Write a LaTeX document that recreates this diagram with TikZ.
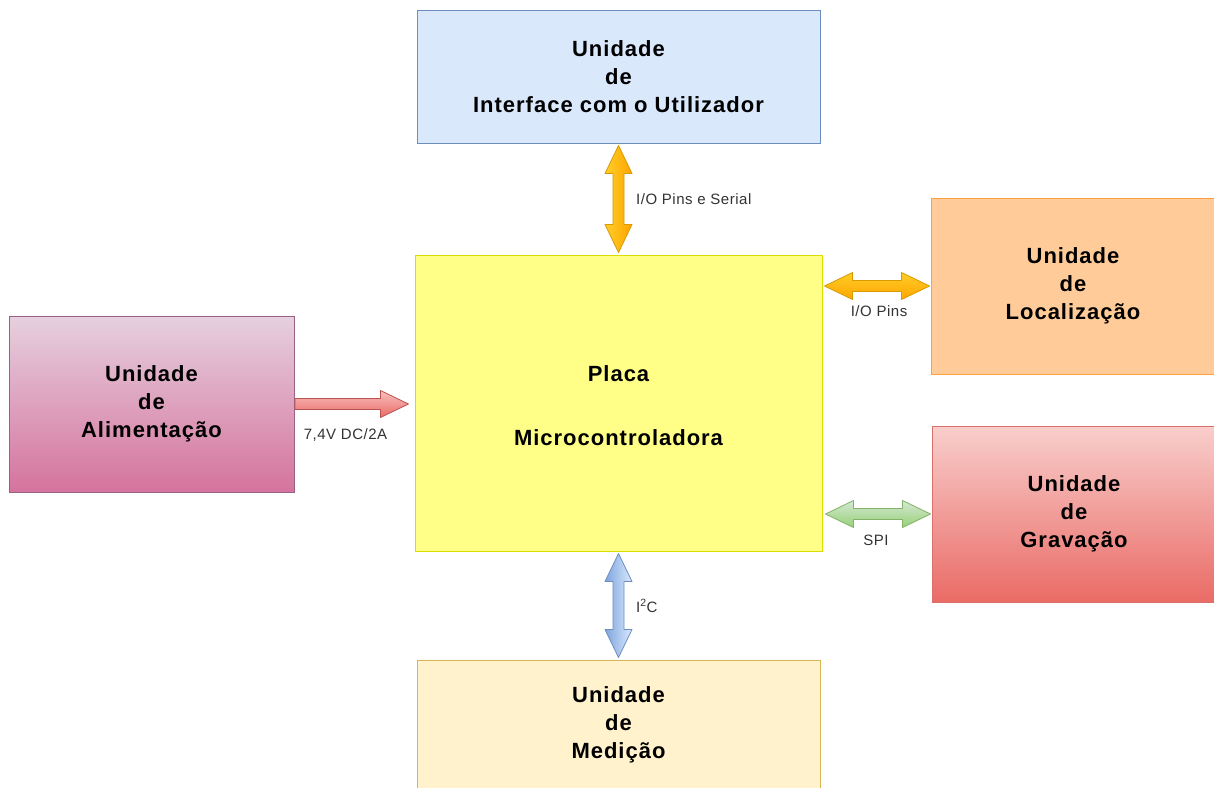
\documentclass[tikz,border=0pt]{standalone}
\usepackage{fontspec}
\setmainfont{Liberation Sans}
\newfontfamily\boxfont[LetterSpace=4.5]{Liberation Sans}
\newfontfamily\lblfont[LetterSpace=3.5]{Liberation Sans}
\usetikzlibrary{calc}
\definecolor{uifill}{HTML}{DAE8FC}\definecolor{uidraw}{HTML}{6C8EBF}
\definecolor{plfill}{HTML}{FFFF88}\definecolor{pldraw}{HTML}{DCDC00}
\definecolor{altop}{HTML}{E6D0DE}\definecolor{albot}{HTML}{D5739D}\definecolor{aldraw}{HTML}{996185}
\definecolor{lofill}{HTML}{FFCC99}\definecolor{lodraw}{HTML}{FF9F40}
\definecolor{grtop}{HTML}{F8CECC}\definecolor{grbot}{HTML}{EA6B66}\definecolor{grdraw}{HTML}{D9706C}
\definecolor{mefill}{HTML}{FFF2CC}\definecolor{medraw}{HTML}{D6B656}
\definecolor{orA}{HTML}{FFCD28}\definecolor{orB}{HTML}{FFA500}\definecolor{ordraw}{HTML}{D79B00}
\definecolor{gnA}{HTML}{D5E8D4}\definecolor{gnB}{HTML}{97D077}\definecolor{gndraw}{HTML}{82B366}
\definecolor{blA}{HTML}{DAE8FC}\definecolor{blB}{HTML}{7EA6E0}\definecolor{bldraw}{HTML}{6C8EBF}
\definecolor{pkA}{HTML}{F8C0BE}\definecolor{pkB}{HTML}{EA6B66}\definecolor{pkdraw}{HTML}{B85450}
\definecolor{lbl}{HTML}{333333}
\def\ahl{28pt}\def\ahw{13.5pt}\def\asw{5.5pt}
\newcommand\dblarrow[3]{%
  \coordinate (ahP) at ($(#2)!\ahl!(#3)$);
  \coordinate (ahQ) at ($(#3)!\ahl!(#2)$);
  \draw[#1] (#2)
  -- ($(ahP)!\ahw!90:(#3)$)
  -- ($(ahP)!\asw!90:(#3)$)
  -- ($(ahQ)!\asw!-90:(#2)$)
  -- ($(ahQ)!\ahw!-90:(#2)$)
  -- (#3)
  -- ($(ahQ)!\ahw!90:(#2)$)
  -- ($(ahQ)!\asw!90:(#2)$)
  -- ($(ahP)!\asw!-90:(#3)$)
  -- ($(ahP)!\ahw!-90:(#3)$)
  -- cycle;}
\newcommand\sglarrow[3]{%
  \coordinate (ahQ) at ($(#3)!\ahl!(#2)$);
  \draw[#1] ($(#2)!\asw!90:(#3)$)
  -- ($(ahQ)!\asw!-90:(#2)$)
  -- ($(ahQ)!\ahw!-90:(#2)$)
  -- (#3)
  -- ($(ahQ)!\ahw!90:(#2)$)
  -- ($(ahQ)!\asw!90:(#2)$)
  -- ($(#2)!\asw!-90:(#3)$)
  -- cycle;}
\begin{document}
\begin{tikzpicture}[x=1pt,y=-1pt,
  box/.style={inner sep=0pt, line width=1pt, align=center, text=black,
    font=\boxfont\bfseries\fontsize{22}{28}\selectfont},
  lab/.style={inner sep=0pt, text=lbl, font=\lblfont\fontsize{15}{17}\selectfont},
  arr/.style={line width=0.8pt, line join=round}]
\useasboundingbox (0,0) rectangle (1214,787);
\fill[white] (0,0) rectangle (1214,787);
\clip (0,0) rectangle (1214,787);
\node[box, fill=uifill, draw=uidraw, minimum width=403pt, minimum height=133pt] (ui) at (618.5,76.5) {Unidade\\de\\Interface com o Utilizador};
\node[box, fill=plfill, draw=pldraw, minimum width=407pt, minimum height=296pt] (placa) at (618.5,403) {\rule{0pt}{22pt}Placa\\[36pt]Microcontroladora};
\node[box, top color=altop, bottom color=albot, draw=aldraw, minimum width=285pt, minimum height=176pt] (alim) at (151.5,404) {Unidade\\de\\Alimentação};
\node[box, fill=lofill, draw=lodraw, minimum width=284pt, minimum height=176pt] (loc) at (1073,286) {Unidade\\de\\Localização};
\node[box, top color=grtop, bottom color=grbot, draw=grdraw, minimum width=284pt, minimum height=176pt] (grav) at (1074,514) {Unidade\\de\\Gravação};
\node[box, fill=mefill, draw=medraw, minimum width=403pt, minimum height=130pt] (med) at (618.5,725) {Unidade\\de\\Medição};
% arrow end points
\coordinate (t1) at ($(ui.south)+(0,2)$);
\coordinate (t2) at ($(placa.north)+(0,-2)$);
\coordinate (r0) at (placa.east |- loc.west);
\coordinate (r1) at ($(r0)+(2,0)$);
\coordinate (r2) at ($(loc.west)+(-1,0)$);
\coordinate (p0) at (placa.west |- alim.east);
\coordinate (p1) at ($(alim.east)+(0.5,0)$);
\coordinate (p2) at ($(p0)+(-6,0)$);
\coordinate (s0) at (placa.east |- grav.west);
\coordinate (s1) at ($(s0)+(3,0)$);
\coordinate (s2) at ($(grav.west)+(-1,0)$);
\coordinate (b1) at ($(placa.south)+(0,2)$);
\coordinate (b2) at ($(med.north)+(0,-2)$);
\dblarrow{arr, left color=orA, right color=orB, draw=ordraw}{t1}{t2}
\dblarrow{arr, top color=orA, bottom color=orB, draw=ordraw}{r1}{r2}
\sglarrow{arr, top color=pkA, bottom color=pkB, draw=pkdraw}{p1}{p2}
\dblarrow{arr, top color=gnA, bottom color=gnB, draw=gndraw}{s1}{s2}
\dblarrow{arr, left color=blB, right color=blA, draw=bldraw}{b1}{b2}
% labels
\node[lab, anchor=west] (l1) at (636,199) {I/O Pins e Serial};
\node[lab] (l2) at (879,311) {I/O Pins};
\node[lab] (l3) at (345.5,435) {7,4V DC/2A};
\node[lab] (l4) at (876,540) {SPI};
\node[lab, anchor=west] (l5) at (636,606) {I\textsuperscript{2}C};
\end{tikzpicture}
\end{document}
